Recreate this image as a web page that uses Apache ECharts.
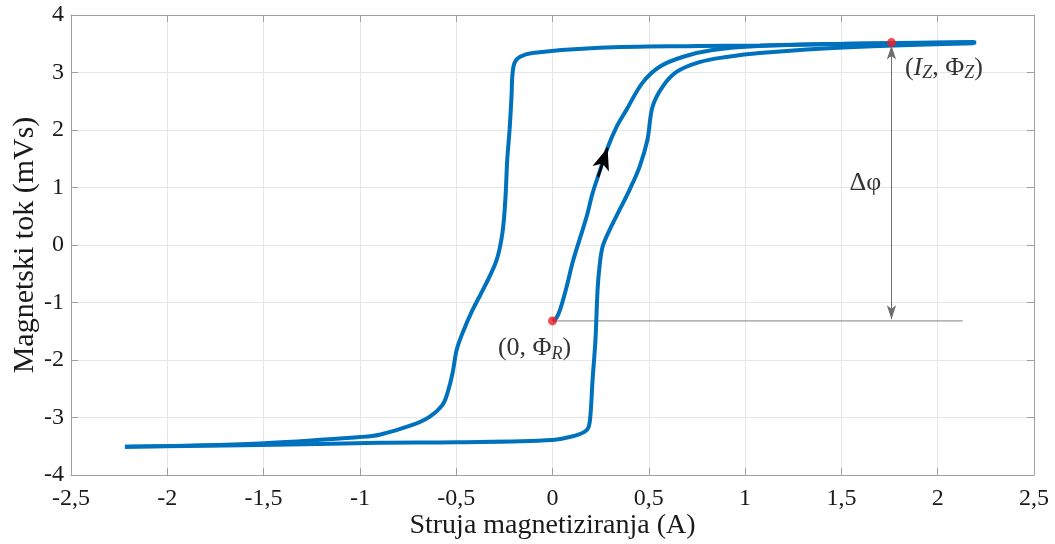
<!DOCTYPE html>
<html>
<head>
<meta charset="utf-8">
<script src="https://cdn.jsdelivr.net/npm/echarts@6/dist/echarts.min.js"></script>
<style>
html,body{margin:0;padding:0;background:#fff;}
#chart{width:1055px;height:544px;}
</style>
</head>
<body>
<div id="chart"></div>
<script>
// ---- data ----
// initial magnetisation curve, from remanence point (0, Phi_R)
const initialI   = [0, 0.02, 0.04, 0.073, 0.104, 0.140, 0.177, 0.208, 0.244, 0.286, 0.332, 0.384, 0.467, 0.556, 0.675, 0.831, 1.07, 1.54, 2.19];
const initialPhi = [-1.32, -1.27, -1.12, -0.73, -0.31, 0.09, 0.49, 0.90, 1.27, 1.69, 2.05, 2.35, 2.82, 3.10, 3.27, 3.39, 3.46, 3.50, 3.53];
// ascending branch of the hysteresis loop
const ascI   = [-2.22, -1.52, -0.90, -0.50, 0, 0.114, 0.166, 0.187, 0.197, 0.208, 0.223, 0.234, 0.244, 0.26, 0.296, 0.348, 0.40, 0.452, 0.493, 0.519, 0.571, 0.644, 0.763, 0.903, 1.075, 1.54, 2.19];
const ascPhi = [-3.51, -3.48, -3.44, -3.43, -3.39, -3.32, -3.25, -3.17, -2.96, -2.35, -1.65, -0.78, -0.38, -0.03, 0.26, 0.61, 0.96, 1.36, 1.83, 2.40, 2.75, 3.01, 3.18, 3.27, 3.34, 3.44, 3.51];
// descending branch of the hysteresis loop
const descI   = [2.2, 1.54, 1.075, 0.763, 0.244, -0.104, -0.171, -0.197, -0.208, -0.213, -0.223, -0.235, -0.245, -0.26, -0.29, -0.343, -0.415, -0.467, -0.498, -0.519, -0.545, -0.571, -0.639, -0.727, -0.898, -1.0, -1.52, -2.22];
const descPhi = [3.52, 3.50, 3.47, 3.46, 3.43, 3.34, 3.27, 3.17, 2.96, 2.57, 2.0, 1.48, 0.78, 0.21, -0.26, -0.66, -1.13, -1.53, -1.83, -2.23, -2.57, -2.78, -2.99, -3.13, -3.30, -3.34, -3.45, -3.51];
// marked points
const remanence = [0, -1.32];
const saturation = [1.76, 3.52];
// reference line and delta arrow
const refLineI = [0, 2.13];
const refLinePhi = [-1.32, -1.32];
const deltaArrow = [[1.76, 3.47], [1.76, -1.29]];
// direction arrow on initial curve
const dirArrow = [[0.236, 1.18], [0.286, 1.69]];
// text annotations
const labelZ = [1.83, 3.08];
const labelR = [-0.093, -1.80];
const labelDelta = [1.625, 1.08];
// axes
const xMin = -2.5, xMax = 2.5, xStep = 0.5;
const yMin = -4, yMax = 4, yStep = 1;

const zip = (a, b) => a.map((v, i) => [v, b[i]]);
const FONT = "'Liberation Serif','Times New Roman',serif";
const BLUE = '#0072BD';
const AXC = '#a0a0a0';
const fmt = v => String(Math.round(v * 10) / 10).replace('.', ',');

const chart = echarts.init(document.getElementById('chart'), null, {renderer: 'canvas'});

const baseX = {
  type: 'value', min: xMin, max: xMax, interval: xStep,
  axisLine: {show: true, onZero: false, lineStyle: {color: AXC, width: 1}},
  axisTick: {show: true, inside: true, length: 7, lineStyle: {color: AXC}},
};
const baseY = {
  type: 'value', min: yMin, max: yMax, interval: yStep,
  axisLine: {show: true, onZero: false, lineStyle: {color: AXC, width: 1}},
  axisTick: {show: true, inside: true, length: 7, lineStyle: {color: AXC}},
};

const option = {
  animation: false,
  backgroundColor: '#fff',
  grid: {left: 71, right: 21, top: 15, bottom: 69, containLabel: false, outerBoundsMode: 'none'},
  xAxis: [
    Object.assign({}, baseX, {
      position: 'bottom',
      name: 'Struja magnetiziranja (A)', nameLocation: 'middle', nameGap: 37, nameMoveOverlap: false,
      nameTextStyle: {fontFamily: FONT, fontSize: 28, color: '#1a1a1a'},
      axisLabel: {fontFamily: FONT, fontSize: 24, color: '#1a1a1a', margin: 12, formatter: fmt},
      splitLine: {show: true, lineStyle: {color: '#e6e6e6', width: 1}}
    }),
    Object.assign({}, baseX, {
      position: 'top', axisLabel: {show: false}, splitLine: {show: false}
    })
  ],
  yAxis: [
    Object.assign({}, baseY, {
      position: 'left',
      name: 'Magnetski tok (mVs)', nameLocation: 'middle', nameGap: 31, nameRotate: 90, nameMoveOverlap: false,
      nameTextStyle: {fontFamily: FONT, fontSize: 30, color: '#1a1a1a'},
      axisLabel: {fontFamily: FONT, fontSize: 24, color: '#1a1a1a', margin: 7, formatter: fmt},
      splitLine: {show: true, lineStyle: {color: '#e6e6e6', width: 1}}
    }),
    Object.assign({}, baseY, {
      position: 'right', axisLabel: {show: false}, splitLine: {show: false}
    })
  ],
  series: [
    {
      type: 'line', data: zip(refLineI, refLinePhi), symbol: 'none',
      lineStyle: {color: '#808080', width: 1}, z: 2,
      markLine: {
        silent: true, symbol: ['arrow', 'arrow'], symbolSize: [7, 14],
        lineStyle: {color: '#6e6e6e', width: 1, type: 'solid'},
        label: {show: false},
        data: [[{coord: deltaArrow[0]}, {coord: deltaArrow[1]}]]
      }
    },
    {type: 'line', data: zip(descI, descPhi), symbol: 'none', smooth: 0.35,
     lineStyle: {color: BLUE, width: 4}, z: 3},
    {type: 'line', data: zip(ascI, ascPhi), symbol: 'none', smooth: 0.35,
     lineStyle: {color: BLUE, width: 4}, z: 3},
    {type: 'line', data: zip(initialI, initialPhi), symbol: 'none', smooth: 0.35,
     lineStyle: {color: BLUE, width: 4}, z: 3,
     markLine: {
       silent: true, symbol: ['none', 'arrow'], symbolSize: [13, 22],
       lineStyle: {color: '#000', width: 2.5, type: 'solid'},
       label: {show: false},
       data: [[{coord: dirArrow[0]}, {coord: dirArrow[1]}]]
     }},
    {type: 'scatter', data: [remanence, saturation], symbol: 'circle', symbolSize: 9,
     itemStyle: {color: '#f01e23'}, z: 5},
    {
      type: 'scatter', symbolSize: 0, z: 6, silent: true,
      data: [
        {value: labelZ, label: {show: true, position: 'inside', align: 'left', verticalAlign: 'middle',
          formatter: '{n|(}{i|I}{s|Z}{n|, Φ}{s|Z}{n|)}'}},
        {value: labelR, label: {show: true, position: 'inside', align: 'center', verticalAlign: 'middle',
          formatter: '{n|(0, Φ}{s|R}{n|)}'}},
        {value: labelDelta, label: {show: true, position: 'inside', align: 'center', verticalAlign: 'middle',
          formatter: '{n|Δφ}'}}
      ],
      label: {
        rich: {
          n: {fontFamily: FONT, fontSize: 26, color: '#000', lineHeight: 32},
          i: {fontFamily: FONT, fontSize: 26, fontStyle: 'italic', color: '#000', lineHeight: 32},
          s: {fontFamily: FONT, fontSize: 18, fontStyle: 'italic', color: '#000', lineHeight: 32, padding: [11, 0, 0, 0]}
        }
      }
    }
  ]
};
chart.setOption(option);
</script>
</body>
</html>
